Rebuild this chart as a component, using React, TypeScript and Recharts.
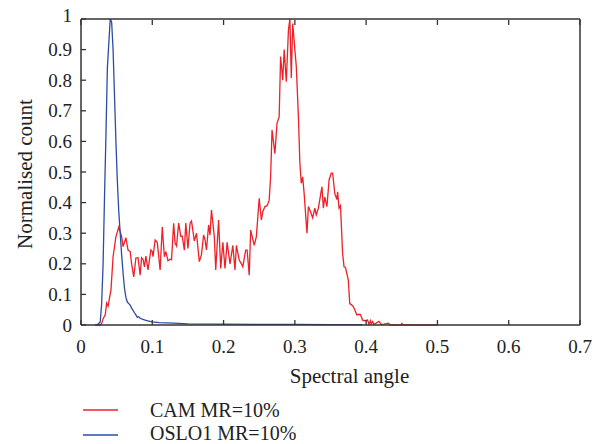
import { LineChart, Line, XAxis, YAxis, Legend } from 'recharts';

// CAM MR=10% (red)
const camAngle = [
  0.02, 0.027, 0.029, 0.031, 0.034, 0.036, 0.038, 0.042, 0.045, 0.049, 0.053, 0.057, 0.059, 0.063, 0.066,
  0.069, 0.071, 0.074, 0.077, 0.08, 0.083, 0.085, 0.087, 0.089, 0.091, 0.094, 0.098, 0.1, 0.101, 0.104,
  0.107, 0.111, 0.114, 0.117, 0.119, 0.122, 0.125, 0.127, 0.13, 0.132, 0.134, 0.137, 0.14, 0.142, 0.145,
  0.147, 0.15, 0.153, 0.155, 0.159, 0.162, 0.166, 0.169, 0.172, 0.174, 0.176, 0.179, 0.181, 0.183, 0.187,
  0.189, 0.193, 0.196, 0.199, 0.202, 0.205, 0.209, 0.213, 0.216, 0.218, 0.222, 0.225, 0.227, 0.231, 0.233,
  0.236, 0.238, 0.24, 0.243, 0.246, 0.25, 0.253, 0.255, 0.258, 0.261, 0.264, 0.266, 0.267, 0.268, 0.272,
  0.275, 0.278, 0.28, 0.283, 0.285, 0.288, 0.291, 0.293, 0.295, 0.297, 0.3, 0.302, 0.305, 0.307, 0.309,
  0.311, 0.313, 0.317, 0.319, 0.322, 0.325, 0.328, 0.33, 0.333, 0.338, 0.34, 0.342, 0.345, 0.348, 0.351,
  0.353, 0.356, 0.359, 0.36, 0.362, 0.364, 0.367, 0.369, 0.371, 0.375, 0.377, 0.38, 0.382, 0.384, 0.387,
  0.39, 0.392, 0.395, 0.398, 0.402, 0.404, 0.406, 0.407, 0.409, 0.411, 0.414, 0.418, 0.421, 0.425, 0.431,
  0.434, 0.449, 0.45, 0.452, 0.5,
];
const camCount = [
  0, 0, 0.005, 0.02, 0.033, 0.072, 0.062, 0.114, 0.223, 0.289, 0.32, 0.289, 0.256, 0.285, 0.245,
  0.24, 0.2, 0.157, 0.219, 0.22, 0.163, 0.22, 0.215, 0.19, 0.225, 0.18, 0.245, 0.24, 0.223, 0.278,
  0.27, 0.18, 0.32, 0.223, 0.24, 0.21, 0.215, 0.213, 0.332, 0.267, 0.258, 0.333, 0.29, 0.29, 0.245,
  0.333, 0.25, 0.333, 0.34, 0.275, 0.3, 0.207, 0.23, 0.294, 0.278, 0.245, 0.327, 0.294, 0.376, 0.289,
  0.18, 0.343, 0.185, 0.27, 0.185, 0.27, 0.2, 0.26, 0.18, 0.26, 0.212, 0.2, 0.19, 0.245, 0.245,
  0.163, 0.31, 0.29, 0.26, 0.289, 0.414, 0.343, 0.37, 0.387, 0.39, 0.408, 0.485, 0.56, 0.637, 0.56,
  0.66, 0.68, 0.877, 0.8, 0.9, 0.795, 0.964, 1.0, 0.807, 0.985, 0.9, 0.845, 0.68, 0.53, 0.463,
  0.484, 0.43, 0.3, 0.387, 0.37, 0.35, 0.382, 0.36, 0.382, 0.452, 0.382, 0.418, 0.387, 0.474, 0.496,
  0.496, 0.43, 0.41, 0.435, 0.382, 0.39, 0.234, 0.19, 0.188, 0.147, 0.07, 0.065, 0.06, 0.05, 0.033,
  0.035, 0.034, 0.016, 0.014, 0.016, 0.002, 0.014, 0.004, 0.011, 0.002, 0.006, 0.012, 0.002, 0.003, 0.006,
  0, 0, 0.005, 0, 0,
];

// OSLO1 MR=10% (blue)
const osloAngle = [
  0.02, 0.024, 0.027, 0.029, 0.031, 0.033, 0.035, 0.037, 0.039, 0.041, 0.043, 0.045, 0.047, 0.049, 0.051,
  0.053, 0.055, 0.057, 0.059, 0.061, 0.063, 0.065, 0.067, 0.069, 0.071, 0.073, 0.075, 0.077, 0.079, 0.081,
  0.083, 0.085, 0.09, 0.095, 0.1, 0.11, 0.12, 0.13, 0.15, 0.2, 0.25, 0.3, 0.35, 0.395,
];
const osloCount = [
  0, 0.003, 0.01, 0.07, 0.2, 0.42, 0.62, 0.84, 0.92, 1.0, 0.99, 0.9, 0.75, 0.6, 0.47,
  0.37, 0.3, 0.23, 0.17, 0.12, 0.09, 0.075, 0.07, 0.065, 0.055, 0.048, 0.04, 0.033, 0.025, 0.027,
  0.022, 0.02, 0.016, 0.013, 0.01, 0.008, 0.007, 0.006, 0.004, 0.003, 0.002, 0.002, 0.001, 0.001,
];

const xTicks = [0, 0.1, 0.2, 0.3, 0.4, 0.5, 0.6, 0.7];
const yTicks = [0, 0.1, 0.2, 0.3, 0.4, 0.5, 0.6, 0.7, 0.8, 0.9, 1];

const camData = camAngle.map((x, i) => ({ x, y: camCount[i] }));
const osloData = osloAngle.map((x, i) => ({ x, y: osloCount[i] }));

const FONT = "'Liberation Serif', 'DejaVu Serif', serif";
const FRAME = '#333';
const RED = '#ee2028';
const BLUE = '#2c4da3';

const BottomTick = (props: any) => {
  const { x, y, payload } = props;
  return (
    <g>
      <line x1={x} y1={y} x2={x} y2={y - 5} stroke={FRAME} strokeWidth={1.3} />
      <text x={x} y={y + 27.5} textAnchor="middle" fontSize={19} style={{ fontFamily: FONT }} fill="#222">
        {String(payload.value)}
      </text>
    </g>
  );
};

const TopTick = (props: any) => {
  const { x, y } = props;
  return <line x1={x} y1={y + 1} x2={x} y2={y + 6} stroke={FRAME} strokeWidth={1.3} />;
};

const LeftTick = (props: any) => {
  const { x, y, payload } = props;
  const v = payload.value;
  return (
    <g>
      <line x1={x} y1={y} x2={x + 5} y2={y} stroke={FRAME} strokeWidth={1.3} />
      <text x={x - 9} y={y + 6.5 - (v === 1 ? 4 : 0)} textAnchor="end" fontSize={19} style={{ fontFamily: FONT }} fill="#222">
        {String(v)}
      </text>
    </g>
  );
};

const RightTick = (props: any) => {
  const { x, y } = props;
  return <line x1={x - 1} y1={y} x2={x - 6} y2={y} stroke={FRAME} strokeWidth={1.3} />;
};

const LegendBox = () => (
  <div style={{ position: 'relative', height: 50, width: 602, fontFamily: FONT, fontSize: 20, lineHeight: '20px', color: '#222' }}>
    <svg width={602} height={50} style={{ position: 'absolute', left: 0, top: 0 }}>
      <line x1={83} y1={16} x2={118} y2={16} stroke={RED} strokeWidth={1.3} />
      <line x1={83} y1={41} x2={118} y2={41} stroke={BLUE} strokeWidth={1.3} />
    </svg>
    <span style={{ position: 'absolute', left: 150, top: 6, whiteSpace: 'nowrap' }}>CAM MR=10%</span>
    <span style={{ position: 'absolute', left: 150, top: 29, whiteSpace: 'nowrap' }}>OSLO1 MR=10%</span>
  </div>
);

const App = () => (
  <div style={{ position: 'absolute', left: 0, top: 0, width: 602, height: 444, background: '#fff', fontFamily: FONT }}>
    <LineChart width={602} height={444} data={camData} margin={{ top: 18, right: 21, left: 0, bottom: 9 }}>
      <XAxis
        xAxisId="b"
        dataKey="x"
        type="number"
        domain={[0, 0.7]}
        ticks={xTicks}
        height={60}
        tickSize={0}
        tickMargin={0}
        tick={<BottomTick />}
        axisLine={{ stroke: FRAME, strokeWidth: 1.5 }}
        interval={0}
        label={{
          content: (p: any) => (
            <text x={p.viewBox.x + p.viewBox.width / 2 + 19} y={p.viewBox.y + 58} textAnchor="middle" fontSize={21} style={{ fontFamily: FONT }} fill="#222">
              Spectral angle
            </text>
          ),
        }}
      />
      <XAxis
        xAxisId="t"
        orientation="top"
        dataKey="x"
        type="number"
        domain={[0, 0.7]}
        ticks={xTicks}
        height={1}
        tickSize={0}
        tickMargin={0}
        tick={<TopTick />}
        axisLine={{ stroke: FRAME, strokeWidth: 1.5 }}
        interval={0}
      />
      <YAxis
        yAxisId="l"
        type="number"
        domain={[0, 1]}
        ticks={yTicks}
        width={81}
        tickSize={0}
        tickMargin={0}
        tick={<LeftTick />}
        axisLine={{ stroke: FRAME, strokeWidth: 1.5 }}
        interval={0}
        label={{
          content: (p: any) => (
            <text
              x={31.5}
              y={p.viewBox.y + p.viewBox.height / 2 + 2}
              transform={`rotate(-90, 31.5, ${p.viewBox.y + p.viewBox.height / 2 + 2})`}
              textAnchor="middle"
              fontSize={21}
              style={{ fontFamily: FONT }}
              fill="#222"
            >
              Normalised count
            </text>
          ),
        }}
      />
      <YAxis
        yAxisId="r"
        orientation="right"
        type="number"
        domain={[0, 1]}
        ticks={yTicks}
        width={1}
        tickSize={0}
        tickMargin={0}
        tick={<RightTick />}
        axisLine={{ stroke: FRAME, strokeWidth: 1.5 }}
        interval={0}
      />
      <Legend
        verticalAlign="bottom"
        layout="horizontal"
        content={<LegendBox />}
        wrapperStyle={{ left: 0, top: 394, bottom: 'auto', width: 602 }}
      />
      <Line
        xAxisId="b"
        yAxisId="l"
        data={camData}
        dataKey="y"
        type="linear"
        stroke={RED}
        strokeWidth={1.3}
        dot={false}
        isAnimationActive={false}
      />
      <Line
        xAxisId="b"
        yAxisId="l"
        data={osloData}
        dataKey="y"
        type="linear"
        stroke={BLUE}
        strokeWidth={1.3}
        dot={false}
        isAnimationActive={false}
      />
    </LineChart>
  </div>
);

export default App;
